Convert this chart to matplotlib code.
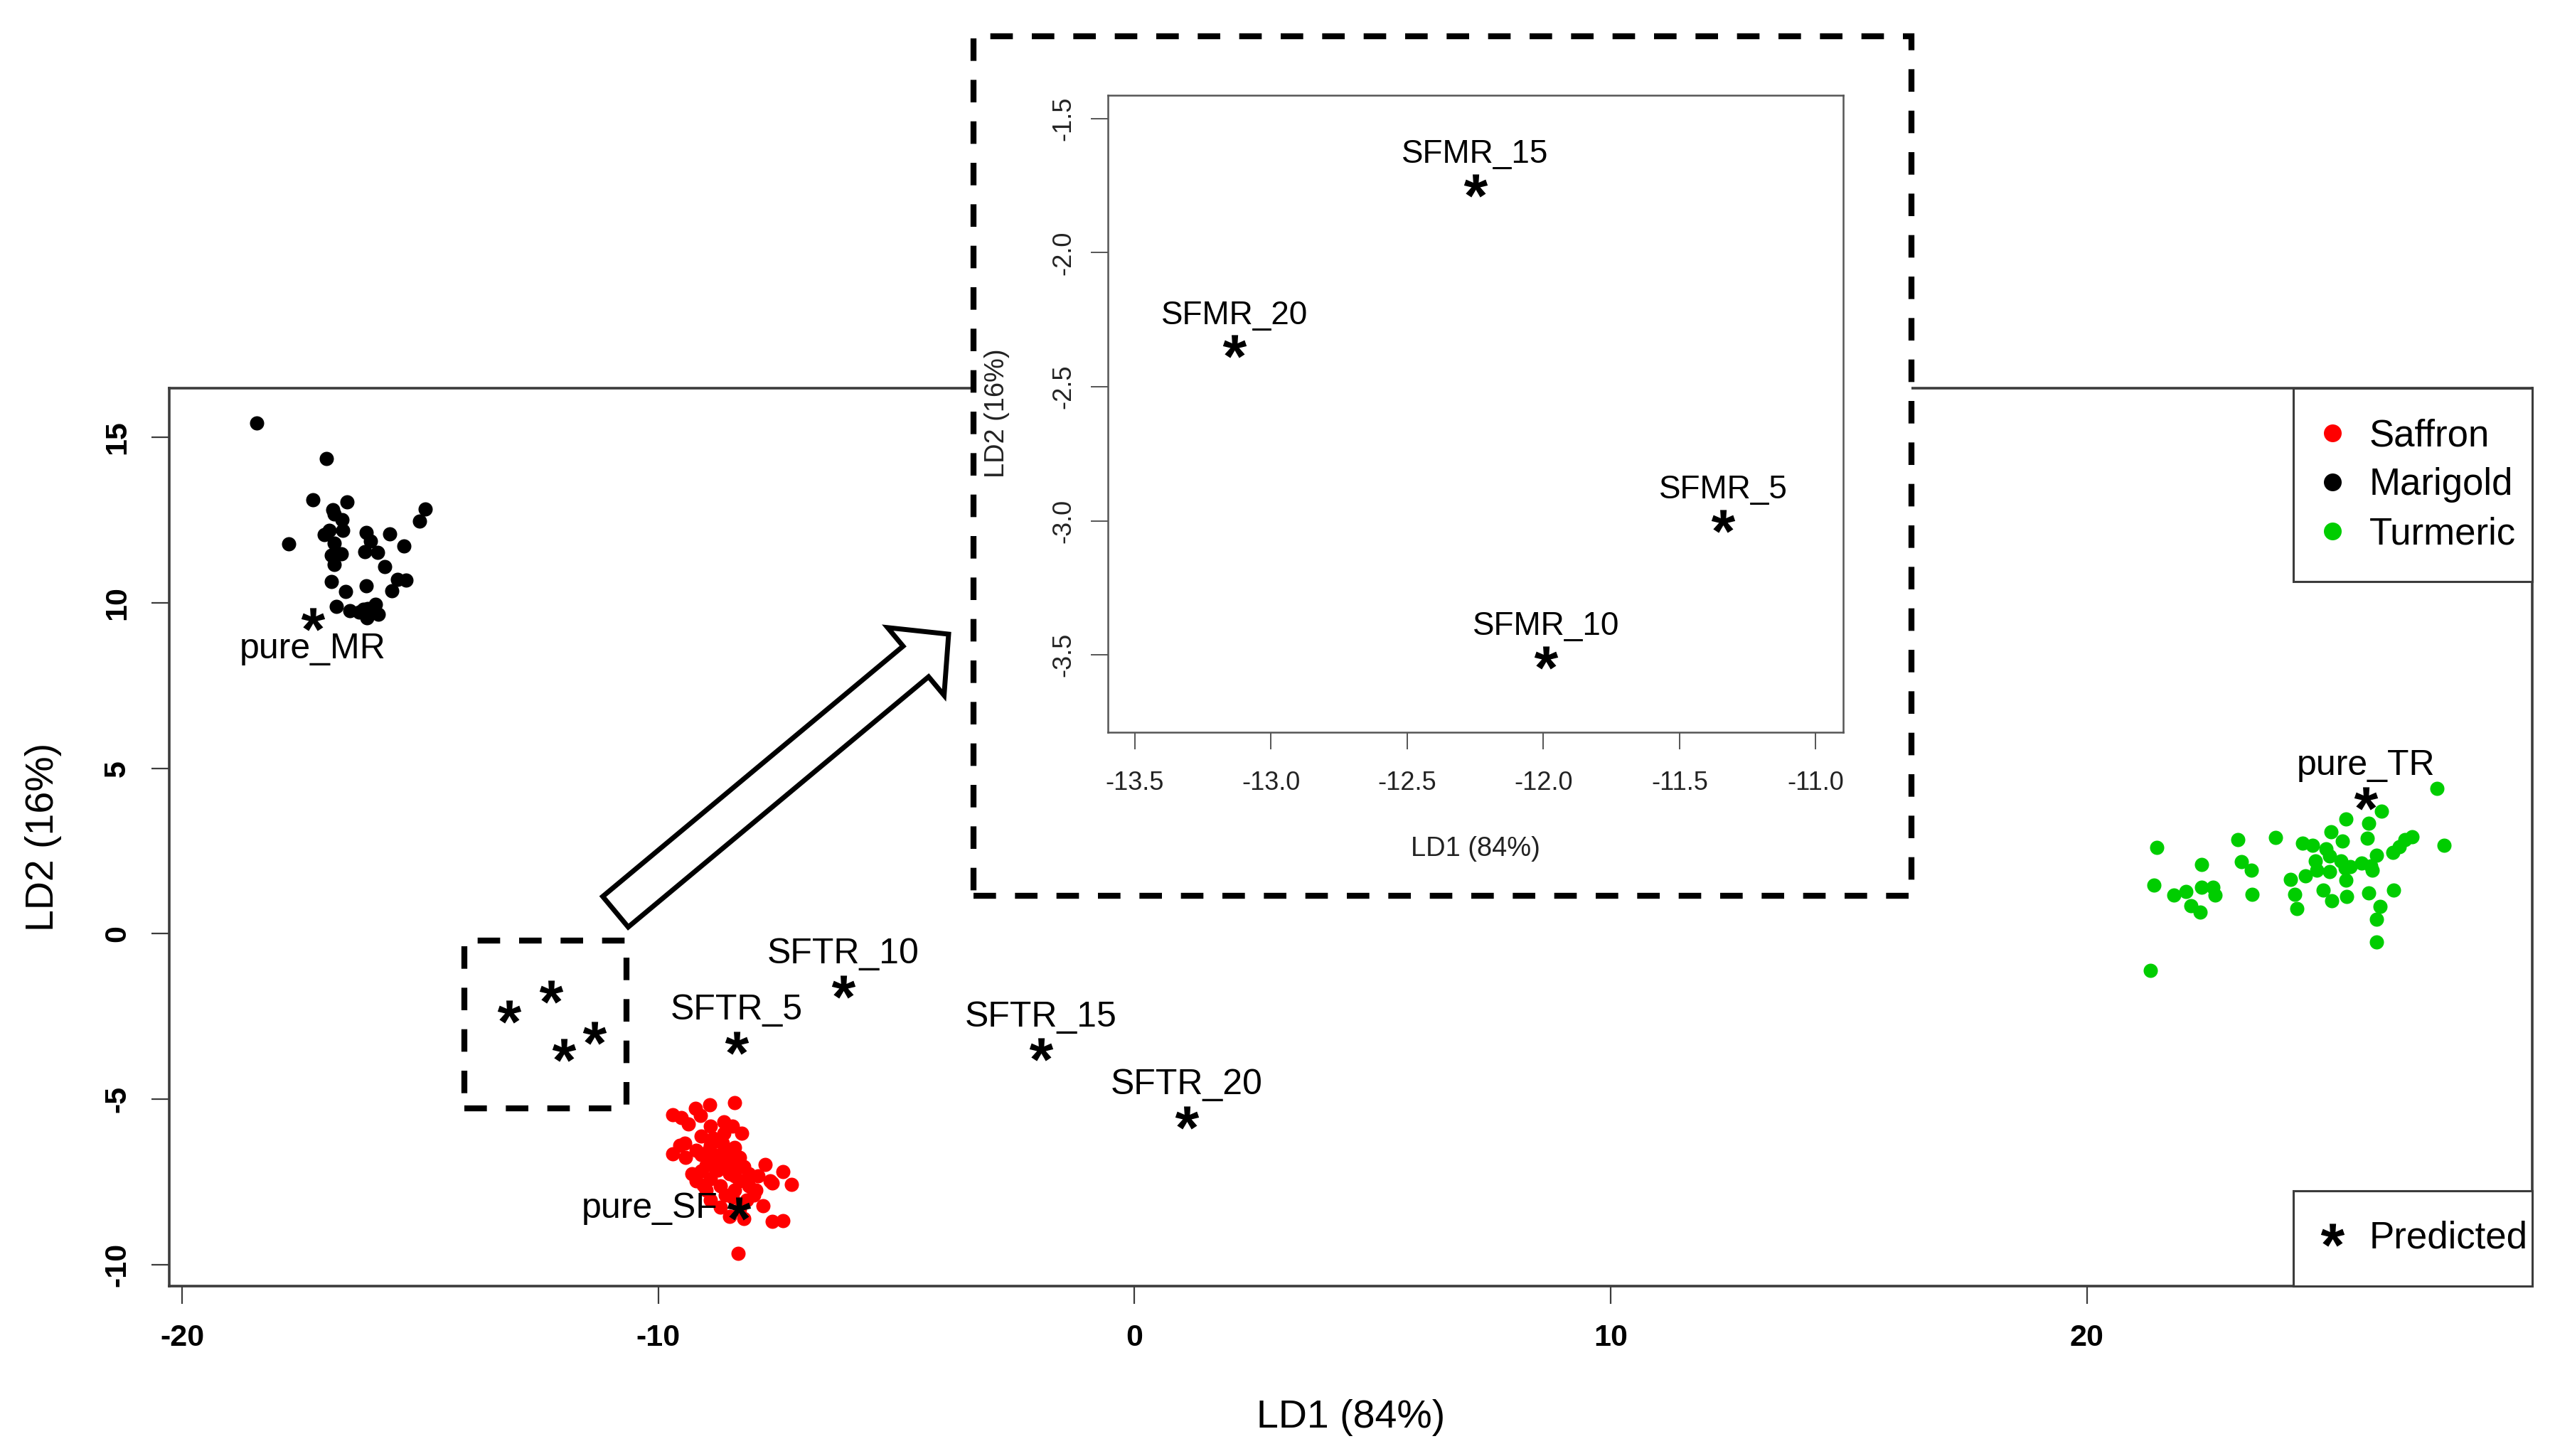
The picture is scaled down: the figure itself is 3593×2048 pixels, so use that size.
import numpy as np
import matplotlib
matplotlib.use("Agg")
import matplotlib.pyplot as plt
import matplotlib.patches as mpatches
from matplotlib.lines import Line2D
from matplotlib.path import Path
from matplotlib.textpath import TextPath
from matplotlib.font_manager import FontProperties
from matplotlib.ticker import FormatStrFormatter

plt.rcParams['font.family'] = ['Liberation Sans', 'DejaVu Sans']
plt.rcParams['axes.unicode_minus'] = False

# ---- data ----
marigold_x = [-18.44, -16.97, -17.26, -16.53, -14.90, -15.02, -16.84, -16.81, -16.64, -16.62,
              -16.91, -17.01, -17.76, -16.81, -16.86, -16.66, -16.81, -16.14, -16.04, -16.16,
              -15.89, -15.64, -15.34, -15.74, -16.86, -16.57, -16.14, -15.47, -15.30, -15.59,
              -16.76, -16.47, -16.12, -15.94, -16.20, -15.88, -16.10, -16.29]
marigold_y = [15.43, 14.35, 13.10, 13.05, 12.82, 12.46, 12.80, 12.69, 12.51, 12.19,
              12.19, 12.05, 11.78, 11.79, 11.44, 11.47, 11.15, 12.12, 11.87, 11.54,
              11.51, 12.07, 11.71, 11.08, 10.64, 10.34, 10.51, 10.71, 10.69, 10.36,
              9.88, 9.75, 9.54, 9.96, 9.80, 9.65, 9.83, 9.72]

saffron_x = [-9.70, -9.52, -9.37, -9.22, -9.12, -8.92, -8.40, -8.63, -8.45, -8.25,
             -8.90, -9.10, -9.45, -9.70, -9.43, -9.20, -8.90, -8.65, -8.40, -8.80,
             -8.50, -8.20, -7.75, -7.38, -7.21, -7.60, -7.90, -8.10, -9.20, -9.10,
             -8.80, -8.50, -8.70, -8.40, -9.00, -8.70, -8.50, -7.80, -8.15, -7.95,
             -7.60, -7.38, -8.33, -8.90, -8.60, -8.30, -8.40, -8.90, -8.10, -8.63,
             -9.30, -8.30, -8.00, -9.10, -8.60, -9.55, -8.85, -8.30, -8.60, -8.90,
             -8.20, -7.65, -8.70, -9.00, -8.75, -8.55, -8.35, -8.95, -9.05, -8.45]
saffron_y = [-5.46, -5.56, -5.75, -5.28, -5.49, -5.16, -5.10, -5.67, -5.81, -6.03,
             -5.81, -6.10, -6.32, -6.64, -6.75, -6.53, -6.39, -6.32, -6.46, -6.75,
             -6.82, -7.03, -6.96, -7.18, -7.57, -7.53, -7.32, -7.61, -7.46, -7.17,
             -7.10, -7.25, -7.61, -7.75, -7.75, -8.25, -8.54, -8.22, -8.04, -7.75,
             -8.68, -8.67, -9.65, -6.89, -6.96, -6.75, -7.32, -7.39, -7.25, -6.03,
             -7.25, -8.32, -7.89, -6.67, -6.53, -6.39, -6.17, -7.46, -7.89, -8.04,
             -8.61, -7.46, -6.67, -7.00, -7.15, -6.60, -7.10, -6.55, -7.60, -7.95]

turmeric_x = [27.35, 27.50, 21.46, 21.41, 21.33, 21.82, 22.08, 22.41, 22.41, 22.65,
              22.69, 22.19, 22.38, 23.17, 23.25, 23.45, 23.47, 23.96, 24.28, 24.37,
              24.41, 24.53, 24.73, 24.59, 24.79, 24.83, 24.96, 25.02, 25.10, 25.12,
              25.10, 25.14, 25.36, 25.33, 25.44, 25.42, 25.44, 25.45, 25.53, 25.76,
              25.88, 25.91, 25.91, 25.99, 26.08, 26.19, 26.16, 26.08, 26.08, 26.44,
              26.42, 26.56, 26.68, 26.82, 25.96]
turmeric_y = [4.39, 2.67, 2.61, 1.46, -1.11, 1.18, 1.27, 2.09, 1.41, 1.41,
              1.16, 0.84, 0.66, 2.85, 2.17, 1.92, 1.19, 2.90, 1.64, 1.19,
              0.77, 2.74, 2.67, 1.74, 2.20, 1.92, 1.31, 2.56, 2.35, 3.08,
              1.88, 1.00, 2.81, 2.20, 3.47, 1.99, 1.63, 1.13, 2.02, 2.14,
              2.88, 3.33, 1.23, 1.92, 2.38, 3.70, 0.83, 0.43, -0.25, 1.31,
              2.45, 2.63, 2.85, 2.92, 2.04]

pred_names = ['pure_MR', 'pure_SF', 'pure_TR', 'SFTR_5', 'SFTR_10', 'SFTR_15', 'SFTR_20']
pred_x = [-17.26, -8.31, 25.85, -8.35, -6.12, -1.97, 1.10]
pred_y = [9.50, -8.29, 4.10, -3.30, -1.59, -3.50, -5.55]
pred_pos = ['below', 'left', 'above', 'above', 'above', 'above', 'above']

sfmr_names = ['SFMR_5', 'SFMR_10', 'SFMR_15', 'SFMR_20']
sfmr_x = [-11.34, -11.99, -12.25, -13.135]
sfmr_y = [-3.00, -3.51, -1.75, -2.35]

zoom_box = [-14.08, -10.67, -5.28, -0.20]   # x0, x1, y0, y1 of the dashed region

col_saffron = '#FF0000'
col_marigold = '#000000'
col_turmeric = '#00CD00'
spine_col = '#3c3c3c'

# asterisk marker taken from the font glyph (centred, close-poly points zeroed)
tp = TextPath((0, 0), '*', size=1, prop=FontProperties(family='Liberation Sans', weight='bold'))
codes = tp.codes
v = tp.vertices.copy()
real = codes != Path.CLOSEPOLY
v -= (v[real].min(0) + v[real].max(0)) / 2
v[~real] = 0
star = Path(v, codes)

fig = plt.figure(figsize=(17.965, 10.24), dpi=200)

# ---- main plot ----
ax = fig.add_axes([0.06624, 0.1167, 0.92485, 0.6167])
ax.scatter(marigold_x, marigold_y, s=52, color=col_marigold, linewidths=0, zorder=3)
ax.scatter(saffron_x, saffron_y, s=52, color=col_saffron, linewidths=0, zorder=3)
ax.scatter(turmeric_x, turmeric_y, s=52, color=col_turmeric, linewidths=0, zorder=3)
ax.plot(pred_x, pred_y, ls='none', marker=star, markersize=12, color='black',
        markeredgewidth=0, zorder=4)
ax.plot(sfmr_x, sfmr_y, ls='none', marker=star, markersize=12, color='black',
        markeredgewidth=0, zorder=4)

for name, x, y, p in zip(pred_names, pred_x, pred_y, pred_pos):
    if p == 'above':
        ax.annotate(name, (x, y), xytext=(0, 16.5), textcoords='offset points',
                    ha='center', va='center', fontsize=18, zorder=5)
    elif p == 'below':
        ax.annotate(name, (x, y), xytext=(0, -15), textcoords='offset points',
                    ha='center', va='center', fontsize=18, zorder=5)
    else:
        ax.annotate(name, (x, y), xytext=(-10.5, 0), textcoords='offset points',
                    ha='right', va='center', fontsize=18, zorder=5)

ax.add_patch(mpatches.Rectangle((zoom_box[0], zoom_box[2]), zoom_box[1] - zoom_box[0],
                                zoom_box[3] - zoom_box[2], fill=False, ec='black', lw=3,
                                ls=(0, (3.8, 3.2)), zorder=2))

ax.set_xlim(-20.27, 29.35)
ax.set_ylim(-10.64, 16.48)
ax.set_xticks([-20, -10, 0, 10, 20])
ax.set_yticks([-10, -5, 0, 5, 10, 15])
for s in ax.spines.values():
    s.set_color(spine_col)
    s.set_linewidth(1.3)
ax.tick_params(axis='both', length=9, width=0.8, color=spine_col, pad=10,
               labelsize=15.5)
ax.tick_params(axis='y', labelrotation=90)
for lab in ax.get_yticklabels():
    lab.set_va('center')
for lab in ax.get_xticklabels() + ax.get_yticklabels():
    lab.set_fontweight('bold')
ax.set_xlabel('LD1 (84%)', fontsize=20, labelpad=24)
ax.set_ylabel('LD2 (16%)', fontsize=20, labelpad=21)

h_groups = [Line2D([], [], ls='none', marker='o', markersize=9, color=c, markeredgewidth=0)
            for c in (col_saffron, col_marigold, col_turmeric)]
leg1 = ax.legend(h_groups, ['Saffron', 'Marigold', 'Turmeric'], loc='upper left',
                 bbox_to_anchor=(0.8989, 0, 0.1011, 1.0), mode='expand', borderaxespad=0,
                 fontsize=19, borderpad=0.8, handlelength=0.5, handletextpad=0.72,
                 labelspacing=0.36, fancybox=False, framealpha=1, edgecolor=spine_col)
leg1.get_frame().set_linewidth(1.1)
ax.add_artist(leg1)
h_pred = [Line2D([], [], ls='none', marker=star, markersize=12, color='black', markeredgewidth=0)]
leg2 = ax.legend(h_pred, ['Predicted'], loc='lower left',
                 bbox_to_anchor=(0.8989, 0, 0.1011, 1.0), mode='expand', borderaxespad=0,
                 fontsize=19, borderpad=0.8, handlelength=0.5, handletextpad=0.72,
                 fancybox=False, framealpha=1, edgecolor=spine_col)
leg2.get_frame().set_linewidth(1.1)

# ---- dashed frame around the inset, and the hollow arrow ----
fig.add_artist(mpatches.Rectangle((0.3810, 0.3848), 0.3672, 0.5903, transform=fig.transFigure,
                                  fc='white', ec='black', lw=3, ls=(0, (3.8, 3.2)), zorder=1))
fig.add_artist(mpatches.FancyArrow(4.3275, 3.8275, 2.3425, 1.9525, width=0.28, head_width=0.62,
                                   head_length=0.30, length_includes_head=True, fc='white',
                                   ec='black', lw=2.5, transform=fig.dpi_scale_trans, zorder=2))

# ---- inset zoom ----
axi = fig.add_axes([0.4335, 0.4972, 0.2878, 0.4376], zorder=3)
axi.plot(sfmr_x, sfmr_y, ls='none', marker=star, markersize=12, color='black', markeredgewidth=0)
for name, x, y in zip(sfmr_names, sfmr_x, sfmr_y):
    axi.annotate(name, (x, y), xytext=(0, 15.7), textcoords='offset points',
                 ha='center', va='center', fontsize=16.5)
axi.set_xlim(-13.6, -10.9)
axi.set_ylim(-3.788, -1.412)
axi.set_xticks([-13.5, -13.0, -12.5, -12.0, -11.5, -11.0])
axi.set_yticks([-3.5, -3.0, -2.5, -2.0, -1.5])
axi.xaxis.set_major_formatter(FormatStrFormatter('%.1f'))
axi.yaxis.set_major_formatter(FormatStrFormatter('%.1f'))
for s in axi.spines.values():
    s.set_color('#555555')
    s.set_linewidth(0.9)
axi.tick_params(axis='both', length=8.5, width=0.7, color='#555555', pad=11,
                labelsize=13, labelcolor='#222222')
axi.tick_params(axis='y', labelrotation=90, pad=7.5)
for lab in axi.get_yticklabels():
    lab.set_va('center')
axi.set_xlabel('LD1 (84%)', fontsize=13.7, labelpad=20.5, color='#222222')
axi.set_ylabel('LD2 (16%)', fontsize=13.7, labelpad=21, color='#222222')

fig.savefig('out.png', dpi=200)
